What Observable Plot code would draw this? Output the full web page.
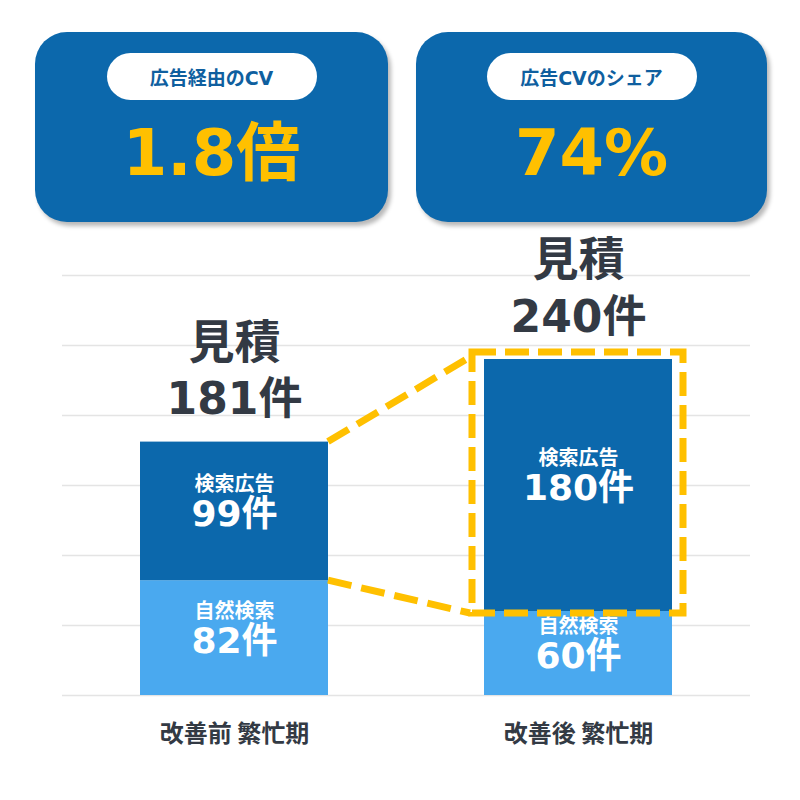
<!DOCTYPE html>
<html>
<head>
<meta charset="utf-8">
<script src="https://cdn.jsdelivr.net/npm/d3@7"></script>
<script src="https://cdn.jsdelivr.net/npm/@observablehq/plot@0.6"></script>
<style>
  html, body { margin: 0; padding: 0; background: #fff; }
  body { font-family: "DejaVu Sans", "Noto Sans CJK JP", sans-serif; }
  #wrap { position: relative; width: 800px; height: 800px; overflow: hidden; }
  #chart { position: absolute; left: 0; top: 0; }
  .kpi { position: absolute; top: 32px; height: 190px; background: #0c68ac; border-radius: 32px;
         box-shadow: 3px 4px 4px rgba(0,0,0,0.28); }
  .pill { position: absolute; top: 21px; left: 50%; transform: translateX(-50%); width: 210px; height: 47px;
          border-radius: 24px; background: #fff; color: #0f5f9f; font-weight: 700; font-size: 19px;
          display: flex; align-items: center; justify-content: center; white-space: nowrap; }
  .big { position: absolute; left: 0; right: 0; top: 121px; transform: translateY(-50%); text-align: center;
         color: #ffc000; font-weight: 700; font-size: 64px; line-height: 1; }
</style>
</head>
<body>
<div id="wrap">
  <div id="chart"></div>
  <div class="kpi" style="left:35px;width:353px"><div class="pill" id="p0"></div><div class="big" id="b0"></div></div>
  <div class="kpi" style="left:416px;width:351px"><div class="pill" id="p1"></div><div class="big" id="b1"></div></div>
</div>
<script>
// ---- data ----
const categories = ["改善前 繁忙期", "改善後 繁忙期"];
const seriesNames = ["自然検索", "検索広告"];
const organic = [82, 60];
const ads = [99, 180];
const yTicks = [0, 50, 100, 150, 200, 250, 300];
const kpiLabels = ["広告経由のCV", "広告CVのシェア"];
const kpiValues = ["1.8倍", "74%"];
const totalLabel = "見積";
const unit = "件";
const colors = ["#4aa9ef", "#0c68ac"];
const accent = "#ffc000";
const textDark = "#333a44";

// KPI boxes
kpiLabels.forEach((t, i) => { document.getElementById("p" + i).textContent = t; });
kpiValues.forEach((t, i) => { document.getElementById("b" + i).textContent = t; });

// table built from arrays
const rows = [];
categories.forEach((c, i) => {
  rows.push({cat: c, series: seriesNames[0], value: organic[i]});
  rows.push({cat: c, series: seriesNames[1], value: ads[i]});
});
const totals = categories.map((c, i) => ({cat: c, total: organic[i] + ads[i]}));
const highlight = [{cat: categories[1], y1: organic[1], y2: organic[1] + ads[1]}];

const font = "DejaVu Sans, Noto Sans CJK JP, sans-serif";
const cjk = "Noto Sans CJK JP, sans-serif";

// connector mark drawn through the plot's scales
function connectors(index, scales) {
  const x = scales.x, y = scales.y;
  const bw = x.bandwidth ? x.bandwidth() : 0;
  const xl = x(categories[0]) + bw;
  const xr = x(categories[1]) - 14;
  const g = d3.create("svg:g")
    .attr("fill", "none").attr("stroke", accent).attr("stroke-width", 7)
    .attr("stroke-dasharray", "24 10");
  g.append("line")
    .attr("x1", xl).attr("y1", y(totals[0].total))
    .attr("x2", xr).attr("y2", y(totals[1].total) - 2);
  g.append("line")
    .attr("x1", xl).attr("y1", y(organic[0]))
    .attr("x2", xr).attr("y2", y(organic[1]) + 2);
  return g.node();
}

const plot = Plot.plot({
  width: 800,
  height: 800,
  marginLeft: 62,
  marginRight: 50,
  marginTop: 275,
  marginBottom: 105,
  style: {fontFamily: font, background: "transparent"},
  x: {domain: categories, paddingInner: 0.453, paddingOuter: 0.2265, axis: null},
  y: {domain: [0, 300], axis: null},
  color: {domain: seriesNames, range: colors},
  marks: [
    Plot.ruleY(yTicks, {stroke: "#e4e4e4", strokeWidth: 1.5}),
    Plot.barY(rows, Plot.stackY({x: "cat", y: "value", fill: "series"})),
    Plot.text(rows, Plot.stackY({x: "cat", y: "value", text: "series", fill: "#fff",
      fontSize: 20, fontWeight: 700, fontFamily: cjk, dy: -27})),
    Plot.text(rows, Plot.stackY({x: "cat", y: "value", text: d => d.value + unit, fill: "#fff",
      fontSize: 36, fontWeight: 700, dy: 3})),
    Plot.text(totals, {x: "cat", y: "total", text: () => totalLabel, fill: textDark,
      fontSize: 46, fontWeight: 700, fontFamily: cjk, dy: -99}),
    Plot.text(totals, {x: "cat", y: "total", text: d => d.total + unit, fill: textDark,
      fontSize: 44, fontWeight: 700, dy: -42}),
    Plot.barY(highlight, {x: "cat", y1: "y1", y2: "y2", fill: "none", stroke: accent,
      strokeWidth: 7, strokeDasharray: "24 9",
      insetLeft: -12, insetRight: -11, insetTop: -7, insetBottom: -2}),
    connectors,
    Plot.text(categories, {x: d => d, y: 0, text: d => d, fill: textDark,
      fontSize: 24, fontWeight: 700, fontFamily: cjk, dy: 39})
  ]
});
document.getElementById("chart").appendChild(plot);
</script>
</body>
</html>
